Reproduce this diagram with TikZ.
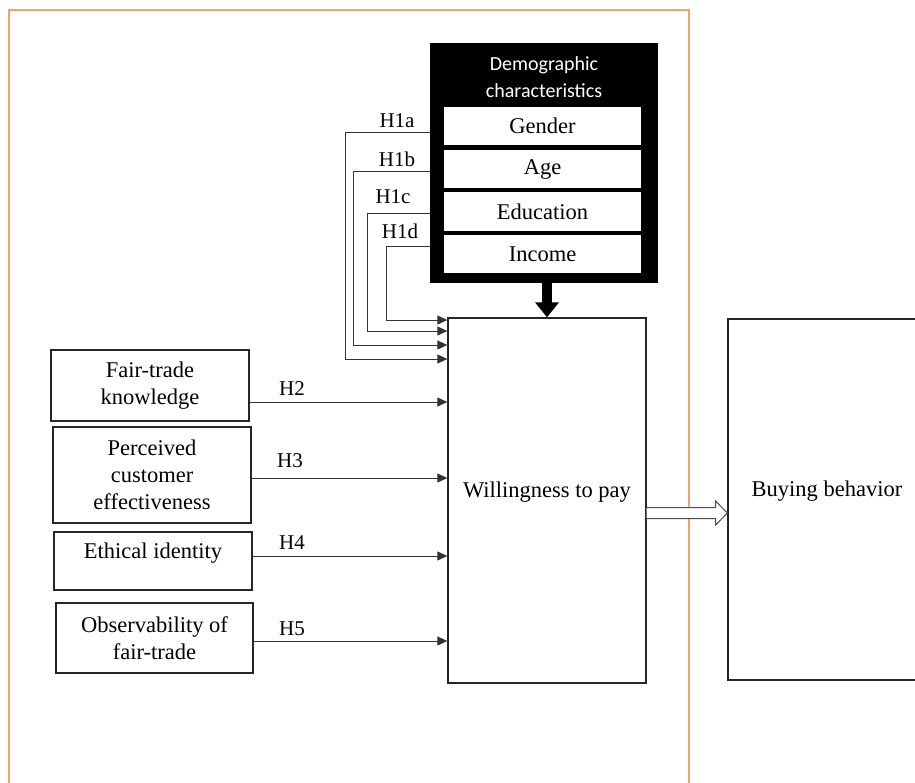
\documentclass[tikz,border=0pt]{standalone}
\usepackage{fontspec}
\setmainfont{Liberation Serif}
\newfontfamily\calfont{Carlito}
\usetikzlibrary{arrows.meta,calc}
\definecolor{frameor}{RGB}{244,162,107}
\begin{document}
\begin{tikzpicture}[x=1pt,y=-1pt,
  font=\fontsize{22.5}{27}\selectfont,
  box/.style={draw=black!85,line width=1.3pt,align=center,inner sep=0pt},
  inbox/.style={fill=white,inner sep=0pt,minimum width=197pt},
  arr/.style={draw=black!80,line width=1pt,-{Triangle[length=10pt,width=9pt]}},
  hlab/.style={font=\fontsize{21}{24}\selectfont}]
\useasboundingbox (0,0) rectangle (915,782);
\begin{scope}
\clip (0,0) rectangle (915,782);
\draw[frameor,line width=2pt] (9,800) -- (9,10) -- (689,10) -- (689,800);

% demographic block
\node[fill=black,minimum width=228pt,minimum height=240pt,inner sep=0pt] (demo) at (544,163) {};
\node[text=white,align=center,font=\calfont\fontsize{20}{27}\selectfont] (title) at (544,77) {Demographic\\characteristics};
\node[inbox,minimum height=38pt] (gender) at (542.5,126) {Gender};
\node[inbox,minimum height=38pt] (age) at (542.5,169) {Age};
\node[inbox,minimum height=39pt] (edu) at (542.5,211.5) {Education};
\node[inbox,minimum height=38pt] (income) at (542.5,254) {Income};

% main boxes
\node[box,minimum width=198pt,minimum height=365pt,label={[yshift=8pt]center:Willingness to pay}] (wtp) at (547,500.5) {};
\node[box,minimum width=198pt,minimum height=361pt,label={[yshift=8pt]center:Buying behavior}] (buy) at (827,499.5) {};

% left boxes
\node[box,minimum width=198pt,minimum height=71pt] (fk) at (150,385.5) {Fair-trade\\knowledge};
\node[box,minimum width=198pt,minimum height=96pt] (pce) at (152,475) {Perceived\\customer\\effectiveness};
\node[box,minimum width=198pt,minimum height=58pt,label={[yshift=8pt]center:Ethical identity}] (eth) at (153,561) {};
\node[box,minimum width=197pt,minimum height=70pt] (obs) at (154.5,638) {Observability of\\fair-trade};

% thick arrow
\coordinate (ta) at (547,0);
\draw[line width=10pt,-{Triangle[length=15pt,width=23pt]}] (demo.south -| ta) -- (wtp.north -| ta);

% H1 connectors
\coordinate (b1) at (345,359);
\coordinate (b2) at (353,345);
\coordinate (b3) at (367,331);
\coordinate (b4) at (386,320);
\draw[arr] (demo.west |- 0,132) -| (b1) -- (wtp.west |- b1);
\draw[arr] (demo.west |- 0,171) -| (b2) -- (wtp.west |- b2);
\draw[arr] (demo.west |- 0,213) -| (b3) -- (wtp.west |- b3);
\draw[arr] (demo.west |- 0,246) -| (b4) -- (wtp.west |- b4);
\node[hlab] (l1a) at (397,121) {H1a};
\node[hlab] (l1b) at (397,159) {H1b};
\node[hlab] (l1c) at (393,197) {H1c};
\node[hlab] (l1d) at (400,231) {H1d};

% H2-H5 connectors
\draw[arr] (fk.east |- 0,402) -- (wtp.west |- 0,402);
\draw[arr] (pce.east |- 0,478) -- (wtp.west |- 0,478);
\draw[arr] (eth.east |- 0,556) -- (wtp.west |- 0,556);
\draw[arr] (obs.east |- 0,641) -- (wtp.west |- 0,641);
\node[hlab] (l2) at (292,389) {H2};
\node[hlab] (l3) at (290,461) {H3};
\node[hlab] (l4) at (292,543) {H4};
\node[hlab] (l5) at (292,629) {H5};

% hollow arrow
\coordinate (ha) at (wtp.east |- 0,513);
\draw[black!70,line width=1pt,fill=white,line join=miter]
  ($(ha)+(0,-5.5)$) -- ($(ha)+(69,-5.5)$) -- ($(ha)+(69,-12)$) -- (buy.west |- ha)
  -- ($(ha)+(69,12)$) -- ($(ha)+(69,5.5)$) -- ($(ha)+(0,5.5)$);
\end{scope}
\end{tikzpicture}
\end{document}
